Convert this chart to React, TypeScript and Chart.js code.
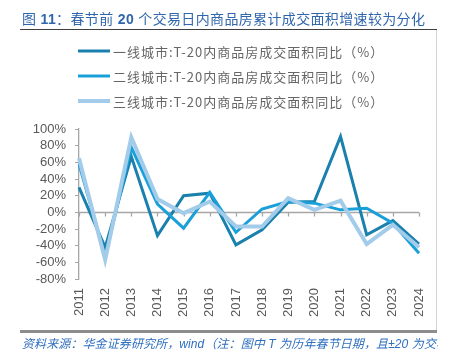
import React, { useEffect, useRef } from "react";
import { Chart, registerables } from "chart.js";

Chart.register(...registerables);

const years = ["2011","2012","2013","2014","2015","2016","2017","2018","2019","2020","2021","2022","2023","2024"];
const tier1 = [30, -42, 67, -28, 20, 23, -39, -21, 12, 13, 91, -27, -10, -38];
const tier2 = [58, -53, 78, 10, -19, 24, -24, 4, 13, 11, 3, 5, -13, -49];
const tier3 = [65, -57, 90, 16, -1, 13, -17, -17, 17, 3, 14, -38, -15, -42];
const seriesNames = [
  "一线城市:T-20内商品房成交面积同比（%）",
  "二线城市:T-20内商品房成交面积同比（%）",
  "三线城市:T-20内商品房成交面积同比（%）",
];
const yMin = -80;
const yMax = 100;
const yStep = 20;

const CJK = "'Noto Sans CJK SC', 'Liberation Sans', sans-serif";
const LAT = "'Liberation Sans', Arial, sans-serif";

const zeroAxisPlugin = {
  id: "zeroAxis",
  beforeDatasetsDraw(chart: any) {
    const { ctx, chartArea, scales } = chart;
    const y0 = Math.round(scales.y.getPixelForValue(0)) + 0.5;
    ctx.save();
    ctx.strokeStyle = "#a6a6a6";
    ctx.lineWidth = 1.3;
    ctx.beginPath();
    ctx.moveTo(chartArea.left, y0);
    ctx.lineTo(chartArea.right, y0);
    for (let i = 0; i < years.length; i++) {
      const x = Math.round(scales.x.getPixelForValue(i)) + 0.5;
      ctx.moveTo(x, y0);
      ctx.lineTo(x, y0 + 4);
    }
    ctx.stroke();
    ctx.restore();
  },
};

const legendPlugin = {
  id: "customLegend",
  afterDraw(chart: any) {
    const { ctx } = chart;
    ctx.save();
    chart.data.datasets.forEach((ds: any, i: number) => {
      const y = 51 + i * 25;
      ctx.strokeStyle = ds.borderColor;
      ctx.lineWidth = ds.borderWidth;
      ctx.beginPath();
      ctx.moveTo(78, y);
      ctx.lineTo(110, y);
      ctx.stroke();
      ctx.fillStyle = "#666666";
      ctx.font = "13px " + CJK;
      (ctx as any).letterSpacing = "1px";
      ctx.textBaseline = "middle";
      ctx.textAlign = "left";
      ctx.fillText(ds.label, 113, y + 1);
    });
    ctx.restore();
  },
};

export default function App() {
  const canvasRef = useRef<HTMLCanvasElement | null>(null);

  useEffect(() => {
    if (!canvasRef.current) return;
    const chart = new Chart(canvasRef.current, {
      type: "line",
      data: {
        labels: years,
        datasets: [
          { label: seriesNames[0], data: tier1, borderColor: "#1a80ad", backgroundColor: "#1a80ad", borderWidth: 3, pointRadius: 0, tension: 0, order: 2 },
          { label: seriesNames[1], data: tier2, borderColor: "#19a0d8", backgroundColor: "#19a0d8", borderWidth: 3, pointRadius: 0, tension: 0, order: 1 },
          { label: seriesNames[2], data: tier3, borderColor: "#a3cbea", backgroundColor: "#a3cbea", borderWidth: 4, pointRadius: 0, tension: 0, order: 0 },
        ],
      },
      options: {
        responsive: false,
        animation: false,
        events: [],
        layout: { padding: { left: 0, top: 129, right: 33, bottom: 0 } },
        plugins: { legend: { display: false }, tooltip: { enabled: false } },
        scales: {
          x: {
            offset: false,
            grid: { display: false, drawTicks: false },
            border: { display: false },
            ticks: {
              color: "#595959",
              font: { family: LAT, size: 13 },
              minRotation: 90,
              maxRotation: 90,
              padding: 9,
              autoSkip: false,
            },
            afterFit(scale: any) { scale.height = 80; },
          },
          y: {
            min: yMin,
            max: yMax,
            grid: { drawOnChartArea: false, drawTicks: true, tickLength: 4, color: "#a6a6a6" },
            border: { display: true, color: "#a6a6a6", width: 1.3 },
            ticks: {
              stepSize: yStep,
              autoSkip: false,
              color: "#595959",
              font: { family: LAT, size: 13 },
              padding: 9,
              callback: (v: any) => `${v}%`,
            },
            afterFit(scale: any) { scale.width = 79; },
          },
        },
      },
      plugins: [zeroAxisPlugin, legendPlugin],
    });
    return () => chart.destroy();
  }, []);

  const bold = { fontFamily: LAT, fontWeight: 700 } as const;
  const lat = { fontFamily: LAT } as const;

  return (
    <div style={{ position: "fixed", left: 0, top: 0, width: 452, height: 359, background: "#ffffff", overflow: "hidden" }}>
      <canvas ref={canvasRef} width={452} height={359} style={{ position: "absolute", left: 0, top: 0, width: 452, height: 359 }} />
      <div style={{ position: "absolute", left: 22, top: 8, whiteSpace: "nowrap", fontFamily: CJK, fontSize: 14, lineHeight: "20px", color: "#2f66ad", letterSpacing: "0.35px" }}>
        <span>图</span><span style={bold}> 11</span><span>：春节前</span><span style={bold}> 20 </span><span>个交易日内商品房累计成交面积增速较为分化</span>
      </div>
      <div style={{ position: "absolute", left: 20, top: 28.5, width: 417, height: 1.5, background: "#3f3f3f" }} />
      <div style={{ position: "absolute", left: 436, top: 30, width: 1, height: 300, background: "#d4d4d4" }} />
      <div style={{ position: "absolute", left: 20, top: 330, width: 417, height: 3, background: "#8c8c8c" }} />
      <div style={{ position: "absolute", left: 22, top: 334, width: 416, overflow: "hidden", whiteSpace: "nowrap", fontFamily: CJK, fontStyle: "italic", fontSize: 12, lineHeight: "18px", color: "#2f6fc0", letterSpacing: "0.1px" }}>
        <span>资料来源：华金证券研究所，</span><span style={lat}>wind</span><span>（注：图中</span><span style={lat}> T </span><span>为历年春节日期，且</span><span style={lat}>±20 </span><span>为交易日）</span>
      </div>
    </div>
  );
}
